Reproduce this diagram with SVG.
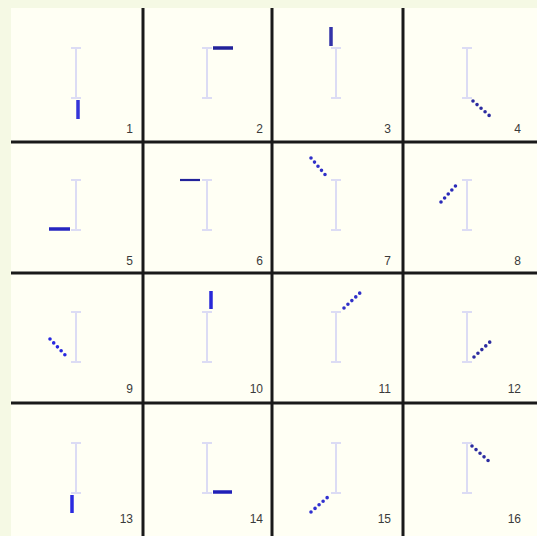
<svg xmlns="http://www.w3.org/2000/svg" width="537" height="536" viewBox="0 0 537 536">
<style>
.beam{stroke:#dcdcf4;stroke-width:2;fill:none}
.hand{stroke:#3434d8;stroke-width:3.5;stroke-linecap:butt;fill:none}
.dark{stroke:#22229a}
.dot{stroke:#2c2ca0;stroke-width:3.6;stroke-linecap:round;stroke-dasharray:0 5.4;fill:none}
.grid{stroke:#1a1a1a;stroke-width:3}
.num{font-family:"Liberation Sans","DejaVu Sans",Arial,sans-serif;font-size:12px;fill:#3a3a3a;text-anchor:end}
</style>
<defs>
<g id="ibeam"><path class="beam" d="M0 0V50M-5 0H5M-5 50H5"/></g>
</defs>
<rect width="537" height="536" fill="#f5f9e4"/>
<rect x="11" y="8" width="526" height="528" fill="#fffff4"/>
<g id="grid">
<line class="grid" x1="143" y1="8" x2="143" y2="536"/>
<line class="grid" x1="272" y1="8" x2="272" y2="536"/>
<line class="grid" x1="403" y1="8" x2="403" y2="536"/>
<line class="grid" x1="11" y1="142" x2="537" y2="142"/>
<line class="grid" x1="11" y1="273" x2="537" y2="273"/>
<line class="grid" x1="11" y1="403" x2="537" y2="403"/>
</g>
<g id="cell1"><use href="#ibeam" x="76" y="48"/><line class="hand" x1="78" y1="100" x2="78" y2="119"/><text class="num" x="133" y="133">1</text></g>
<g id="cell2"><use href="#ibeam" x="207" y="48"/><line class="hand dark" x1="213" y1="48" x2="233" y2="48"/><text class="num" x="263" y="133">2</text></g>
<g id="cell3"><use href="#ibeam" x="336" y="48"/><line class="hand" style="stroke:#3333a8" x1="331" y1="27" x2="331" y2="46"/><text class="num" x="391" y="133">3</text></g>
<g id="cell4"><use href="#ibeam" x="467" y="48"/><line class="dot" x1="473" y1="101" x2="492" y2="118"/><text class="num" x="521" y="133">4</text></g>
<g id="cell5"><use href="#ibeam" x="76" y="180"/><line class="hand" style="stroke:#2626c0" x1="49" y1="229" x2="70" y2="229"/><text class="num" x="133" y="265">5</text></g>
<g id="cell6"><use href="#ibeam" x="207" y="180"/><line class="hand dark" style="stroke-width:2.2" x1="180" y1="180" x2="200" y2="180"/><text class="num" x="263" y="265">6</text></g>
<g id="cell7"><use href="#ibeam" x="336" y="180"/><line class="dot" style="stroke:#3030c8" x1="311" y1="158" x2="328" y2="178"/><text class="num" x="391" y="265">7</text></g>
<g id="cell8"><use href="#ibeam" x="467" y="180"/><line class="dot" style="stroke:#2a2ab8" x1="441" y1="202" x2="459" y2="182"/><text class="num" x="521" y="265">8</text></g>
<g id="cell9"><use href="#ibeam" x="76" y="312"/><line class="dot" style="stroke:#2828e0" x1="50" y1="339" x2="68" y2="358"/><text class="num" x="133" y="393">9</text></g>
<g id="cell10"><use href="#ibeam" x="207" y="312"/><line class="hand" style="stroke:#2828d8" x1="211" y1="291" x2="211" y2="309"/><text class="num" x="263" y="393">10</text></g>
<g id="cell11"><use href="#ibeam" x="336" y="312"/><line class="dot" style="stroke:#3030c8" x1="344" y1="308" x2="362" y2="291"/><text class="num" x="391" y="393">11</text></g>
<g id="cell12"><use href="#ibeam" x="467" y="312"/><line class="dot" x1="474" y1="357" x2="492" y2="340"/><text class="num" x="521" y="393">12</text></g>
<g id="cell13"><use href="#ibeam" x="76" y="443"/><line class="hand" style="stroke:#2a2ae0" x1="72" y1="495" x2="72" y2="513"/><text class="num" x="133" y="523">13</text></g>
<g id="cell14"><use href="#ibeam" x="207" y="443"/><line class="hand" style="stroke:#2020b8" x1="213" y1="492" x2="232" y2="492"/><text class="num" x="263" y="523">14</text></g>
<g id="cell15"><use href="#ibeam" x="336" y="443"/><line class="dot" style="stroke:#3030d0" x1="311" y1="512" x2="329" y2="496"/><text class="num" x="391" y="523">15</text></g>
<g id="cell16"><use href="#ibeam" x="467" y="443"/><line class="dot" x1="472" y1="446" x2="492" y2="464"/><text class="num" x="521" y="523">16</text></g>
</svg>
